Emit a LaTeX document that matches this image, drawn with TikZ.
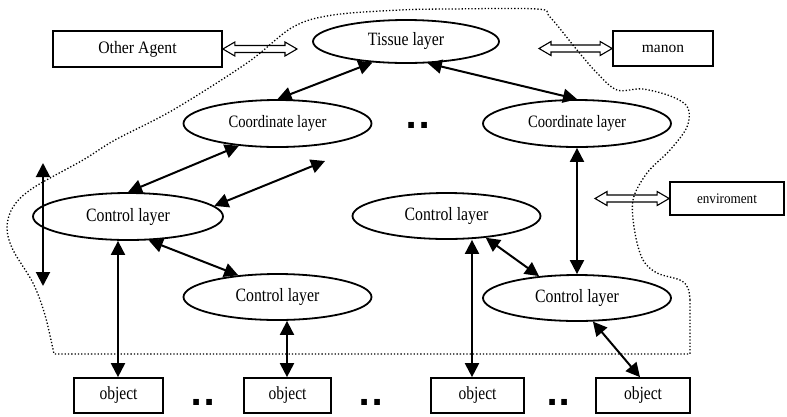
\documentclass[tikz,border=0pt]{standalone}
\usepackage{fontspec}
\setmainfont{Liberation Serif}
\newfontfamily\narrowfont[FakeStretch=0.84]{Liberation Serif}
\newfontfamily\midfont[FakeStretch=0.9]{Liberation Serif}
\newfontfamily\dotfont{DejaVu Sans}
\usetikzlibrary{arrows.meta,shapes.geometric,calc}

% hollow double-headed block arrow between two points at the same height
\newcommand\dblhollow[2]{%
  \draw[blockarrow] (#1) -- ($(#1)+(12,-7)$) -- ($(#1)+(12,-3.5)$)
    -- ($(#2)+(-12,-3.5)$) -- ($(#2)+(-12,-7)$) -- (#2)
    -- ($(#2)+(-12,7)$) -- ($(#2)+(-12,3.5)$) -- ($(#1)+(12,3.5)$)
    -- ($(#1)+(12,7)$) -- cycle;}

\begin{document}
\begin{tikzpicture}[x=1bp,y=-1bp,
  layer/.style={ellipse,draw,line width=1.8bp,inner sep=0pt,
    minimum width=188bp,minimum height=46bp,
    font=\narrowfont\fontsize{18.8bp}{20bp}\selectfont},
  coordlayer/.style={layer,minimum height=47bp,font=\narrowfont\fontsize{17.4bp}{19bp}\selectfont},
  box/.style={draw,line width=1.7bp,inner sep=0pt,minimum height=35bp,
    font=\narrowfont\fontsize{18.5bp}{20bp}\selectfont},
  link/.style={{Triangle[length=14bp,width=14bp]}-{Triangle[length=14bp,width=14bp]},
    line width=2bp},
  blockarrow/.style={draw,line width=1.1bp,line join=miter},
  boundary/.style={line width=1.3bp,dotted},
  gap/.style={inner sep=0pt,font=\dotfont\bfseries\fontsize{32bp}{32bp}\selectfont}
]
\useasboundingbox (0,0) rectangle (787,416);

% dotted outline of the agent
\draw[boundary] plot[smooth,tension=0.55] coordinates {
  (690,300) (688,288) (680,280) (657,273) (643,260) (635,233) (633,200)
  (647,173) (670,150) (687,127) (688,108) (673,97) (643,89) (617,90)
  (597,73) (577,50) (550,17) (537,9) (450,9) (400,10) (333,15) (293,27)
  (247,63) (173,110) (115,140) (83,160) (33,188) (13,207) (7,228)
  (13,250) (33,283) (45,315) (54,354)} -- (690,354) -- (690,300);

% layers
\node[layer,minimum height=43bp,minimum width=186bp] (tissue) at (406,41.5) {Tissue layer};
\node[coordlayer] (coordL) at (277.5,123.5) {Coordinate layer};
\node[coordlayer] (coordR) at (577,123.5) {Coordinate layer};
\node[layer,minimum width=190bp,minimum height=47bp] (ctrlL) at (128,216.5) {Control layer};
\node[layer] (ctrlM) at (277.5,297) {Control layer};
\node[layer] (ctrlC) at (446.5,216) {Control layer};
\node[layer] (ctrlR) at (577,298) {Control layer};

% outside boxes
\node[box,minimum width=169bp,minimum height=36bp,font=\midfont\fontsize{17.5bp}{19bp}\selectfont] (agent) at (137.5,49) {Other Agent};
\node[box,minimum width=100bp,font=\fontsize{15.5bp}{17bp}\selectfont] (manon) at (663,48.5) {manon};
\node[box,minimum width=114bp,minimum height=33bp,font=\midfont\fontsize{14.6bp}{16bp}\selectfont] (env) at (727,198.5) {enviroment};

% objects
\node[box,minimum width=89bp] (obj1) at (118.5,395.5) {object};
\node[box,minimum width=87bp] (obj2) at (287.5,395.5) {object};
\node[box,minimum width=93bp] (obj3) at (477.5,395.5) {object};
\node[box,minimum width=94bp] (obj4) at (643,395.5) {object};

% ellipsis marks
\node[gap,anchor=base] (gapTop) at (418,128) {..};
\node[gap,anchor=base] (gap1) at (203,405) {..};
\node[gap,anchor=base] (gap2) at (371,405) {..};
\node[gap,anchor=base] (gap3) at (558.5,405) {..};

% free ends and offset attachment points
\coordinate (agentTip) at (297,49);
\coordinate (manonTip) at (539,48.5);
\coordinate (envTip) at (595,198.5);
\coordinate (freeTop) at (325,161);
\coordinate (sideTop) at (43,163);
\coordinate (sideBot) at (43,286);
\coordinate (obj1in) at ($(obj1.north)+(-0.5,0)$);
\coordinate (obj2in) at ($(obj2.north)+(-0.5,0)$);
\coordinate (obj3in) at ($(obj3.north)+(-5.5,0)$);
\coordinate (obj4in) at ($(obj4.north)+(-3,0)$);

% block arrows to the outside
\dblhollow{agent.east}{agentTip}
\dblhollow{manonTip}{manon.west}
\dblhollow{envTip}{env.west}

% connectors
\draw[link] (tissue.212) -- (coordL.north);
\draw[link] (tissue.-45) -- (coordR.north);
\draw[link] (coordL.210) -- (ctrlL.north);
\draw[link] (freeTop) -- (ctrlL.7);
\draw[link] (ctrlL.-49) -- (ctrlM.151);
\draw[link] (ctrlC.-29) -- (ctrlR.150);
\draw[link] (coordR.south) -- (ctrlR.north);
\draw[link] (sideTop) -- (sideBot);
\draw[link] (obj1in |- ctrlL.south) -- (obj1in);
\draw[link] (obj2in |- ctrlM.south) -- (obj2in);
\draw[link] (obj3in |- ctrlC.south) -- (obj3in);
\draw[link] (ctrlR.-56) -- (obj4in);
\end{tikzpicture}
\end{document}
